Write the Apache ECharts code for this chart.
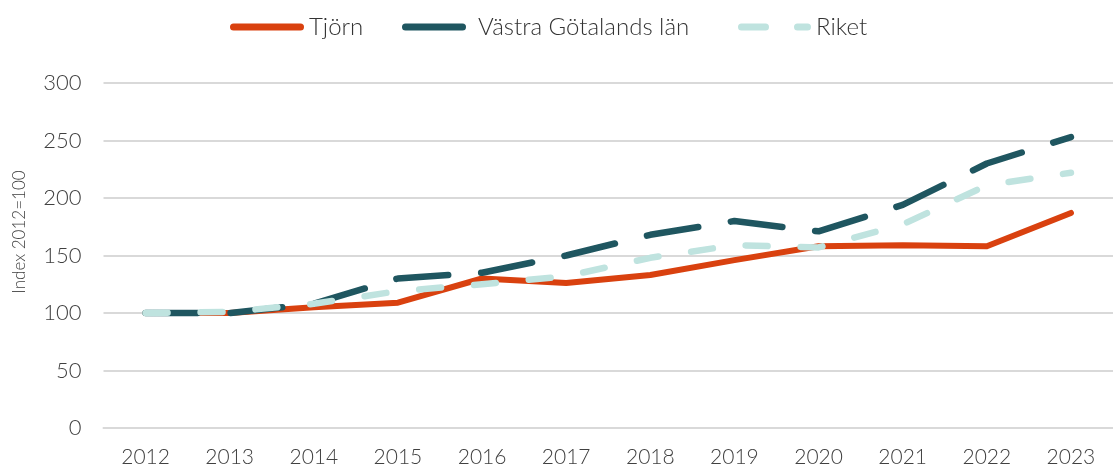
<!DOCTYPE html>
<html>
<head>
<meta charset="utf-8">
<script src="https://cdn.jsdelivr.net/npm/echarts@6/dist/echarts.min.js"></script>
<style>
  html, body { margin: 0; padding: 0; background: #fff; }
  #chart { width: 1113px; height: 468px; }
</style>
</head>
<body>
<div id="chart"></div>
<script>
// data
const years = ['2012', '2013', '2014', '2015', '2016', '2017', '2018', '2019', '2020', '2021', '2022', '2023']
const tjorn = [100, 100, 105, 109, 130, 126, 133, 146, 158, 159, 158, 187]
const vastraGotaland = [100, 100, 108, 130, 135, 150, 168, 180, 171, 194, 230, 253]
const riket = [100, 101, 108, 119, 125, 132, 148, 159, 157, 177, 211, 222]

const fontFamily = 'Lato, "Open Sans", sans-serif'
const textColor = '#404040'

// pill shaped legend icons (like the thick line keys)
function pill(x0, x1) {
  return 'M' + (x0 + 3.5) + ',0 H' + (x1 - 3.5) + ' A3.5,3.5 0 0 1 ' + (x1 - 3.5) + ',7 H' + (x0 + 3.5) + ' A3.5,3.5 0 0 1 ' + (x0 + 3.5) + ',0 Z'
}
const legendText = { fontSize: 24, color: '#333', fontWeight: 300, fontFamily: fontFamily }

const chart = echarts.init(document.getElementById('chart'), null, { renderer: 'canvas' })

chart.setOption({
  animation: false,
  textStyle: { fontFamily: fontFamily },
  legend: [{
    top: 10, left: 225,
    itemWidth: 74, itemHeight: 7,
    textStyle: legendText,
    data: [{ name: 'Tjörn', icon: 'path://' + pill(0, 74) }]
  }, {
    top: 10, left: 397,
    itemWidth: 64, itemHeight: 7,
    textStyle: Object.assign({ padding: [0, 0, 0, 7] }, legendText),
    data: [{ name: 'Västra Götalands län', icon: 'path://' + pill(0, 64) }]
  }, {
    top: 10, left: 733,
    itemWidth: 73, itemHeight: 7,
    textStyle: legendText,
    data: [{ name: 'Riket', icon: 'path://' + pill(0, 31) + ' ' + pill(56, 73) }]
  }],
  grid: {
    left: 103.5,
    right: -10.5,
    top: 83,
    bottom: 40
  },
  xAxis: {
    type: 'category',
    data: years,
    boundaryGap: true,
    axisLine: { show: true, lineStyle: { color: '#d9d9d9', width: 2 } },
    axisTick: { show: false },
    axisLabel: { fontSize: 21, color: textColor, fontWeight: 300, margin: 19 }
  },
  yAxis: {
    type: 'value',
    min: 0,
    max: 300,
    interval: 50,
    axisLine: { show: false },
    axisTick: { show: false },
    axisLabel: { fontSize: 22, color: textColor, fontWeight: 300, margin: 22 },
    splitLine: { lineStyle: { color: '#d9d9d9', width: 2 } }
  },
  graphic: [{
    type: 'text',
    x: 20,
    y: 232,
    rotation: Math.PI / 2,
    style: {
      text: 'Index 2012=100',
      fontSize: 17,
      fontFamily: fontFamily,
      fontWeight: 300,
      fill: textColor,
      align: 'center',
      verticalAlign: 'middle'
    }
  }],
  series: [
    {
      name: 'Tjörn',
      type: 'line',
      data: tjorn,
      showSymbol: false,
      symbol: 'none',
      color: '#D9410F',
      lineStyle: { width: 6, color: '#D9410F', cap: 'round', join: 'round' }
    },
    {
      name: 'Västra Götalands län',
      type: 'line',
      data: vastraGotaland,
      showSymbol: false,
      symbol: 'none',
      color: '#1F5660',
      lineStyle: { width: 6.5, color: '#1F5660', type: [52, 33], cap: 'round', join: 'round' }
    },
    {
      name: 'Riket',
      type: 'line',
      data: riket,
      showSymbol: false,
      symbol: 'none',
      color: '#BFE3DF',
      lineStyle: { width: 6.5, color: '#BFE3DF', type: [22, 33], cap: 'round', join: 'round' }
    }
  ]
})
</script>
</body>
</html>
